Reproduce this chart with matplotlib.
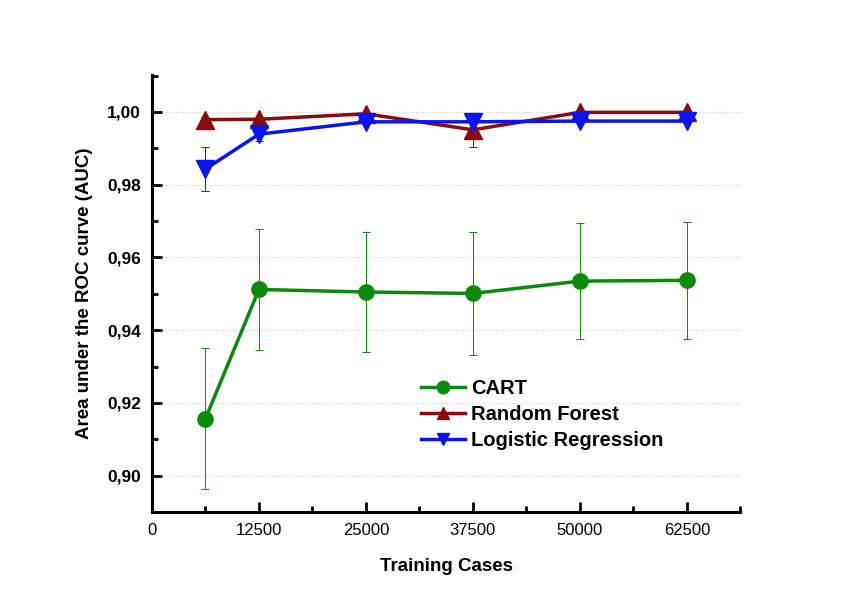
import matplotlib
matplotlib.use("Agg")
import matplotlib.pyplot as plt
from matplotlib.lines import Line2D
from matplotlib.ticker import MultipleLocator, FuncFormatter

# Training set sizes
training_cases = [6250, 12500, 25000, 37500, 50000, 62500]

# Mean AUC and standard deviation for each classifier
cart_auc = [0.9157, 0.9512, 0.9505, 0.9501, 0.9535, 0.9537]
cart_err = [0.0195, 0.0166, 0.0166, 0.0170, 0.0159, 0.0160]

rf_auc = [0.9979, 0.9980, 0.9995, 0.9951, 0.9999, 0.9999]
rf_err = [0.0006, 0.0004, 0.0003, 0.0046, 0.0002, 0.0002]

lr_auc = [0.9843, 0.9939, 0.9973, 0.9973, 0.9975, 0.9975]
lr_err = [0.0060, 0.0020, 0.0005, 0.0020, 0.0005, 0.0005]

series_names = ["CART", "Random Forest", "Logistic Regression"]
x_ticks = [0, 12500, 25000, 37500, 50000, 62500]
y_ticks = [0.90, 0.92, 0.94, 0.96, 0.98, 1.00]

colors = ["#0a8a0a", "#8b0a0a", "#0a14f0"]
markers = ["o", "^", "v"]
marker_sizes = [11, 12.5, 12.5]

plt.rcParams["font.family"] = ["Liberation Sans", "DejaVu Sans"]

fig = plt.figure(figsize=(8.49, 6.07), dpi=100)
ax = fig.add_axes([0.179, 0.1565, 0.693, 0.7195])

for vals, errs, col, mk, ms, z in zip([cart_auc, rf_auc, lr_auc],
                                      [cart_err, rf_err, lr_err],
                                      colors, markers, marker_sizes, [3, 3, 4]):
    ax.errorbar(training_cases, vals, yerr=errs, color=col,
                marker=mk, markersize=ms, linewidth=2.5, elinewidth=0.7,
                capsize=3, capthick=0.7, zorder=z)

ax.set_xlim(0, 68750)
ax.set_ylim(0.89, 1.0101)

ax.set_xticks(x_ticks)
ax.xaxis.set_minor_locator(MultipleLocator(6250))
ax.set_yticks(y_ticks)
ax.yaxis.set_minor_locator(MultipleLocator(0.01))
ax.yaxis.set_major_formatter(FuncFormatter(lambda v, p: f"{v:.2f}".replace(".", ",")))

for side in ("top", "right"):
    ax.spines[side].set_visible(False)
for side in ("left", "bottom"):
    ax.spines[side].set_linewidth(2.2)

ax.tick_params(which="major", direction="in", length=7, width=2, pad=8)
ax.tick_params(which="minor", direction="in", length=4, width=2)
ax.tick_params(axis="y", labelsize=12.5)
ax.tick_params(axis="x", labelsize=12)
for lbl in ax.get_yticklabels():
    lbl.set_fontweight("bold")

ax.grid(axis="y", which="major", linestyle=(0, (1, 2)), color="#c8c8c8",
        linewidth=0.8, zorder=0)

ax.set_xlabel("Training Cases", fontsize=13.5, fontweight="bold", labelpad=14)
ax.set_ylabel("Area under the ROC curve (AUC)", fontsize=13.5,
              fontweight="bold", labelpad=10)

handles = [Line2D([], [], color=c, marker=m, markersize=9, linewidth=2.5)
           for c, m in zip(colors, markers)]
ax.legend(handles, series_names, loc="center left", bbox_to_anchor=(0.43, 0.224),
          frameon=False, prop={"weight": "bold", "size": 14.5},
          handlelength=2.2, handletextpad=0.3, labelspacing=0.35,
          borderpad=0.3)

fig.savefig("out.png", dpi=100, facecolor="white")
